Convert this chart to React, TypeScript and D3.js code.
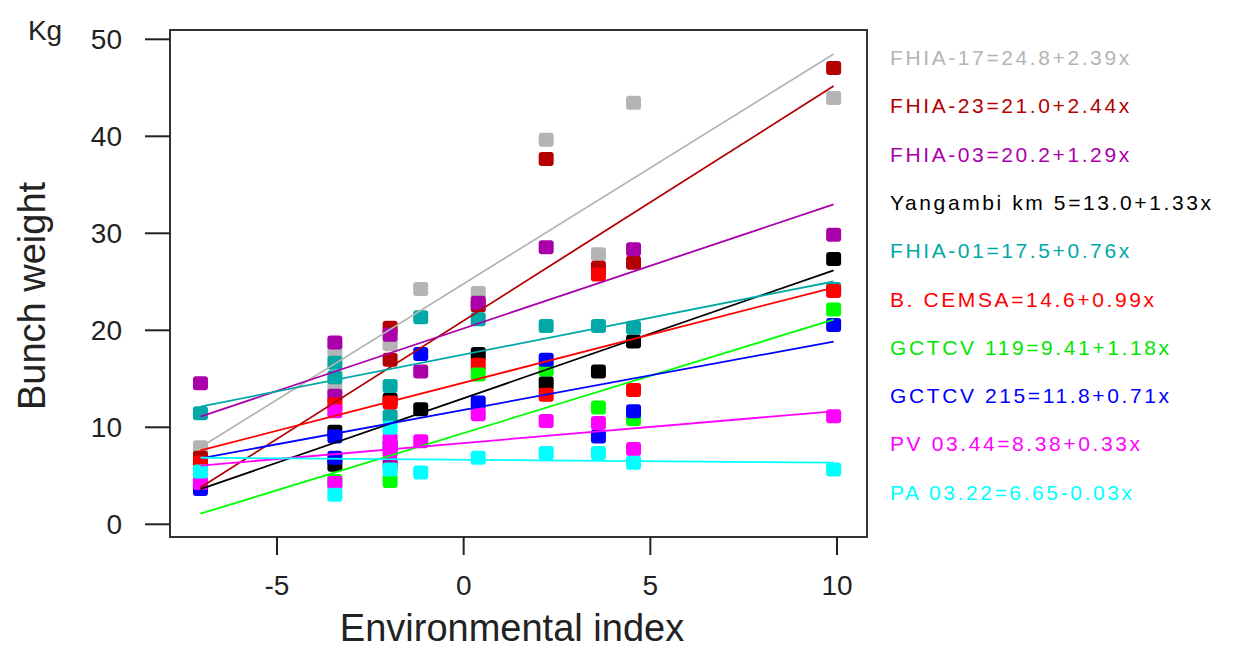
import * as d3 from 'd3';

// environmental index of each trial (two pairs of trials fall at almost the same index)
const envIndex = [-7.05, -3.45, -3.45, -1.97, -1.97, -1.15, 0.39, 2.21, 3.61, 4.55, 9.91];

const varieties = ['FHIA-17', 'FHIA-23', 'FHIA-03', 'Yangambi km 5', 'FHIA-01', 'B. CEMSA', 'GCTCV 119', 'GCTCV 215', 'PV 03.44', 'PA 03.22'];
const equations = ['24.8+2.39x', '21.0+2.44x', '20.2+1.29x', '13.0+1.33x', '17.5+0.76x', '14.6+0.99x', '9.41+1.18x', '11.8+0.71x', '8.38+0.33x', '6.65-0.03x'];
const intercepts = [24.8, 21.0, 20.2, 13.0, 17.5, 14.6, 9.41, 11.8, 8.38, 6.65];
const slopes = [2.39, 2.44, 1.29, 1.33, 0.76, 0.99, 1.18, 0.71, 0.33, -0.03];
const colors = ['#b4b4b4', '#b40000', '#aa00aa', '#000000', '#00a8a8', '#ff0000', '#00ff00', '#0000ff', '#ff00ff', '#00ffff'];

// bunch weight (kg) per trial, null = not visible
const fhia17 = [7.9, 17.8, 14.0, 18.5, null, 24.2, 23.8, 39.6, 27.8, 43.4, 43.9];
const fhia23 = [6.8, null, null, 20.2, 16.9, null, 22.5, 37.6, 26.4, 26.9, 47.0];
const fhia03 = [14.5, 18.7, 13.2, 19.5, 6.2, 15.7, 22.8, 28.5, null, 28.3, 29.8];
const yangambi = [3.9, 9.5, 6.1, 12.8, null, 11.8, 17.5, 14.5, 15.7, 18.8, 27.3];
const fhia01 = [11.4, 16.6, 15.1, 14.2, 11.1, 21.3, 21.1, 20.4, 20.4, 20.2, 24.2];
const cemsa = [6.3, 12.3, null, 12.5, null, null, 16.4, 13.3, 25.7, 13.8, 24.0];
const gctcv119 = [3.8, 4.4, null, 4.4, null, null, 15.4, 15.9, 12.0, 10.8, 22.1];
const gctcv215 = [3.6, 9.0, 6.8, 8.0, null, 17.5, 12.5, 16.9, 9.0, 11.6, 20.5];
const pv0344 = [4.2, 11.6, 4.2, 8.7, 7.5, 8.5, 11.3, 10.6, 10.4, 7.7, 11.1];
const pa0322 = [5.4, 3.0, null, 9.9, 5.6, 5.3, 6.8, 7.3, 7.3, 6.3, 5.6];
const weights = [fhia17, fhia23, fhia03, yangambi, fhia01, cemsa, gctcv119, gctcv215, pv0344, pa0322];

const yTicks = [0, 10, 20, 30, 40, 50];
const xTicks = [-5, 0, 5, 10];

export default function App() {
  const width = 1234;
  const height = 648;
  const frame = { left: 170, top: 30, right: 867, bottom: 537 };

  const x = d3.scaleLinear().domain([-5, 10]).range([277, 837]);
  const y = d3.scaleLinear().domain([0, 50]).range([524.3, 39.3]);

  const [xMin, xMax] = d3.extent(envIndex) as [number, number];

  const font = 'Arial, "Liberation Sans", sans-serif';
  const ms = 15;

  return (
    <svg width={width} height={height} style={{ position: 'absolute', left: 0, top: 0, background: '#fff' }}
      fontFamily={font}>
      {/* points */}
      {weights.map((vals, s) => (
        <g key={'p' + s} fill={colors[s]}>
          {vals.map((v, i) => v == null ? null : (
            <rect key={i} x={x(envIndex[i]) - ms / 2} y={y(v) - ms / 2} width={ms} height={ms - 1} rx={3} />
          ))}
        </g>
      ))}
      {/* regression lines */}
      {intercepts.map((a, s) => {
        const b = slopes[s];
        const d = d3.line<number>().x(v => x(v)).y(v => y(a + b * v))([xMin, xMax]) ?? '';
        return <path key={'l' + s} d={d} stroke={colors[s]} strokeWidth={1.8} fill="none" />;
      })}

      {/* frame */}
      <rect x={frame.left} y={frame.top} width={frame.right - frame.left} height={frame.bottom - frame.top}
        fill="none" stroke="#333" strokeWidth={2} />

      {/* y axis */}
      {yTicks.map(t => (
        <g key={'y' + t}>
          <line x1={145} x2={frame.left} y1={y(t)} y2={y(t)} stroke="#222" strokeWidth={2} />
          <text x={122} y={y(t)} dy="0.36em" textAnchor="end" fontSize={28} fill="#222">{t}</text>
        </g>
      ))}
      {/* x axis */}
      {xTicks.map(t => (
        <g key={'x' + t}>
          <line x1={x(t)} x2={x(t)} y1={frame.bottom} y2={555} stroke="#222" strokeWidth={2} />
          <text x={x(t)} y={595} textAnchor="middle" fontSize={28} fill="#222">{t}</text>
        </g>
      ))}

      <text x={45} y={40} textAnchor="middle" fontSize={28} fill="#222">Kg</text>
      <text transform="translate(45,296) rotate(-90)" textAnchor="middle" fontSize={38} fill="#222">Bunch weight</text>
      <text x={512} y={641} textAnchor="middle" fontSize={38} fill="#222">Environmental index</text>

      {/* equations */}
      {varieties.map((name, s) => (
        <text key={'e' + s} x={890} y={65 + s * 48.3} fontSize={21} letterSpacing={2.6} fill={colors[s] === '#00ff00' ? '#00e600' : colors[s]}>
          {name}={equations[s]}
        </text>
      ))}
    </svg>
  );
}
